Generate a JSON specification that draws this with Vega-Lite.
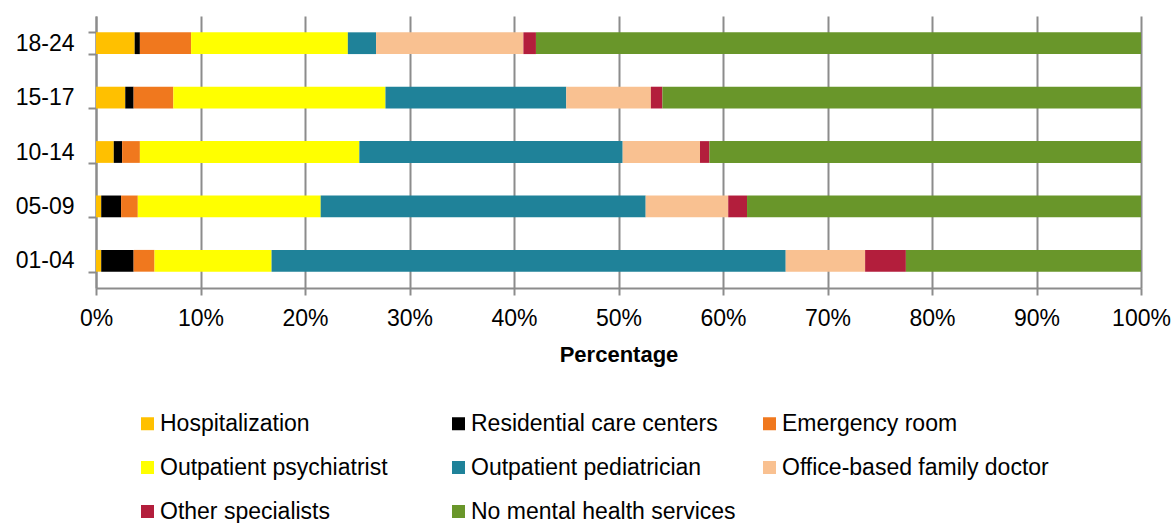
{
  "$schema": "https://vega.github.io/schema/vega-lite/v6.json",
  "width": 1045,
  "height": 272,
  "autosize": {"type": "none"},
  "padding": {"left": 96, "top": 16, "right": 33, "bottom": 235},
  "background": "white",
  "config": {"view": {"stroke": null}, "font": "Liberation Sans"},
  "data": {
    "values": [
      {"age": "18-24", "service": "Hospitalization", "order": 1, "value": 3.7},
      {"age": "18-24", "service": "Residential care centers", "order": 2, "value": 0.5},
      {"age": "18-24", "service": "Emergency room", "order": 3, "value": 4.9},
      {"age": "18-24", "service": "Outpatient psychiatrist", "order": 4, "value": 15.0},
      {"age": "18-24", "service": "Outpatient pediatrician", "order": 5, "value": 2.7},
      {"age": "18-24", "service": "Office-based family doctor", "order": 6, "value": 14.1},
      {"age": "18-24", "service": "Other specialists", "order": 7, "value": 1.2},
      {"age": "18-24", "service": "No mental health services", "order": 8, "value": 57.9},
      {"age": "15-17", "service": "Hospitalization", "order": 1, "value": 2.8},
      {"age": "15-17", "service": "Residential care centers", "order": 2, "value": 0.8},
      {"age": "15-17", "service": "Emergency room", "order": 3, "value": 3.8},
      {"age": "15-17", "service": "Outpatient psychiatrist", "order": 4, "value": 20.3},
      {"age": "15-17", "service": "Outpatient pediatrician", "order": 5, "value": 17.3},
      {"age": "15-17", "service": "Office-based family doctor", "order": 6, "value": 8.1},
      {"age": "15-17", "service": "Other specialists", "order": 7, "value": 1.1},
      {"age": "15-17", "service": "No mental health services", "order": 8, "value": 45.8},
      {"age": "10-14", "service": "Hospitalization", "order": 1, "value": 1.7},
      {"age": "10-14", "service": "Residential care centers", "order": 2, "value": 0.8},
      {"age": "10-14", "service": "Emergency room", "order": 3, "value": 1.7},
      {"age": "10-14", "service": "Outpatient psychiatrist", "order": 4, "value": 21.0},
      {"age": "10-14", "service": "Outpatient pediatrician", "order": 5, "value": 25.2},
      {"age": "10-14", "service": "Office-based family doctor", "order": 6, "value": 7.4},
      {"age": "10-14", "service": "Other specialists", "order": 7, "value": 0.9},
      {"age": "10-14", "service": "No mental health services", "order": 8, "value": 41.3},
      {"age": "05-09", "service": "Hospitalization", "order": 1, "value": 0.5},
      {"age": "05-09", "service": "Residential care centers", "order": 2, "value": 1.9},
      {"age": "05-09", "service": "Emergency room", "order": 3, "value": 1.6},
      {"age": "05-09", "service": "Outpatient psychiatrist", "order": 4, "value": 17.5},
      {"age": "05-09", "service": "Outpatient pediatrician", "order": 5, "value": 31.1},
      {"age": "05-09", "service": "Office-based family doctor", "order": 6, "value": 7.9},
      {"age": "05-09", "service": "Other specialists", "order": 7, "value": 1.8},
      {"age": "05-09", "service": "No mental health services", "order": 8, "value": 37.7},
      {"age": "01-04", "service": "Hospitalization", "order": 1, "value": 0.5},
      {"age": "01-04", "service": "Residential care centers", "order": 2, "value": 3.1},
      {"age": "01-04", "service": "Emergency room", "order": 3, "value": 2.0},
      {"age": "01-04", "service": "Outpatient psychiatrist", "order": 4, "value": 11.2},
      {"age": "01-04", "service": "Outpatient pediatrician", "order": 5, "value": 49.2},
      {"age": "01-04", "service": "Office-based family doctor", "order": 6, "value": 7.6},
      {"age": "01-04", "service": "Other specialists", "order": 7, "value": 3.9},
      {"age": "01-04", "service": "No mental health services", "order": 8, "value": 22.5}
    ]
  },
  "mark": {"type": "bar"},
  "encoding": {
    "y": {
      "field": "age",
      "type": "nominal",
      "sort": ["18-24", "15-17", "10-14", "05-09", "01-04"],
      "scale": {"paddingInner": 0.6, "paddingOuter": 0.3},
      "axis": {
        "title": null,
        "labelFontSize": 23,
        "labelColor": "black",
        "tickBand": "extent",
        "tickSize": 8,
        "tickWidth": 2,
        "tickColor": "#8c8c8c",
        "domainColor": "#8c8c8c",
        "domainWidth": 2,
        "labelPadding": 14,
        "grid": false
      }
    },
    "x": {
      "field": "value",
      "type": "quantitative",
      "stack": "zero",
      "scale": {"domain": [0, 100]},
      "axis": {
        "values": [0, 10, 20, 30, 40, 50, 60, 70, 80, 90, 100],
        "labelExpr": "datum.value + '%'",
        "labelFontSize": 23,
        "labelColor": "black",
        "labelPadding": 12,
        "labelFlush": false,
        "labelOverlap": false,
        "tickSize": 7,
        "tickWidth": 2,
        "tickColor": "#8c8c8c",
        "domainColor": "#8c8c8c",
        "domainWidth": 2,
        "grid": true,
        "gridColor": "#8c8c8c",
        "gridWidth": 2,
        "title": "Percentage",
        "titleFontSize": 22,
        "titleFontWeight": "bold",
        "titleColor": "black",
        "titlePadding": 14
      }
    },
    "color": {
      "field": "service",
      "type": "nominal",
      "scale": {
        "domain": ["Hospitalization", "Residential care centers", "Emergency room", "Outpatient psychiatrist", "Outpatient pediatrician", "Office-based family doctor", "Other specialists", "No mental health services"],
        "range": ["#FFC000", "#000000", "#F0781E", "#FFFF00", "#1F8299", "#F9C191", "#B31E3C", "#69962A"]
      },
      "legend": {
        "orient": "none",
        "direction": "horizontal",
        "legendX": 40,
        "legendY": 396,
        "padding": 0,
        "title": null,
        "columns": 3,
        "gridAlign": "all",
        "columnPadding": 20,
        "rowPadding": 20,
        "symbolType": "square",
        "symbolSize": 169,
        "symbolStrokeWidth": 0,
        "labelFontSize": 23,
        "labelColor": "black",
        "labelOffset": 1,
        "labelLimit": 400
      }
    },
    "order": {"field": "order", "type": "quantitative"}
  }
}
